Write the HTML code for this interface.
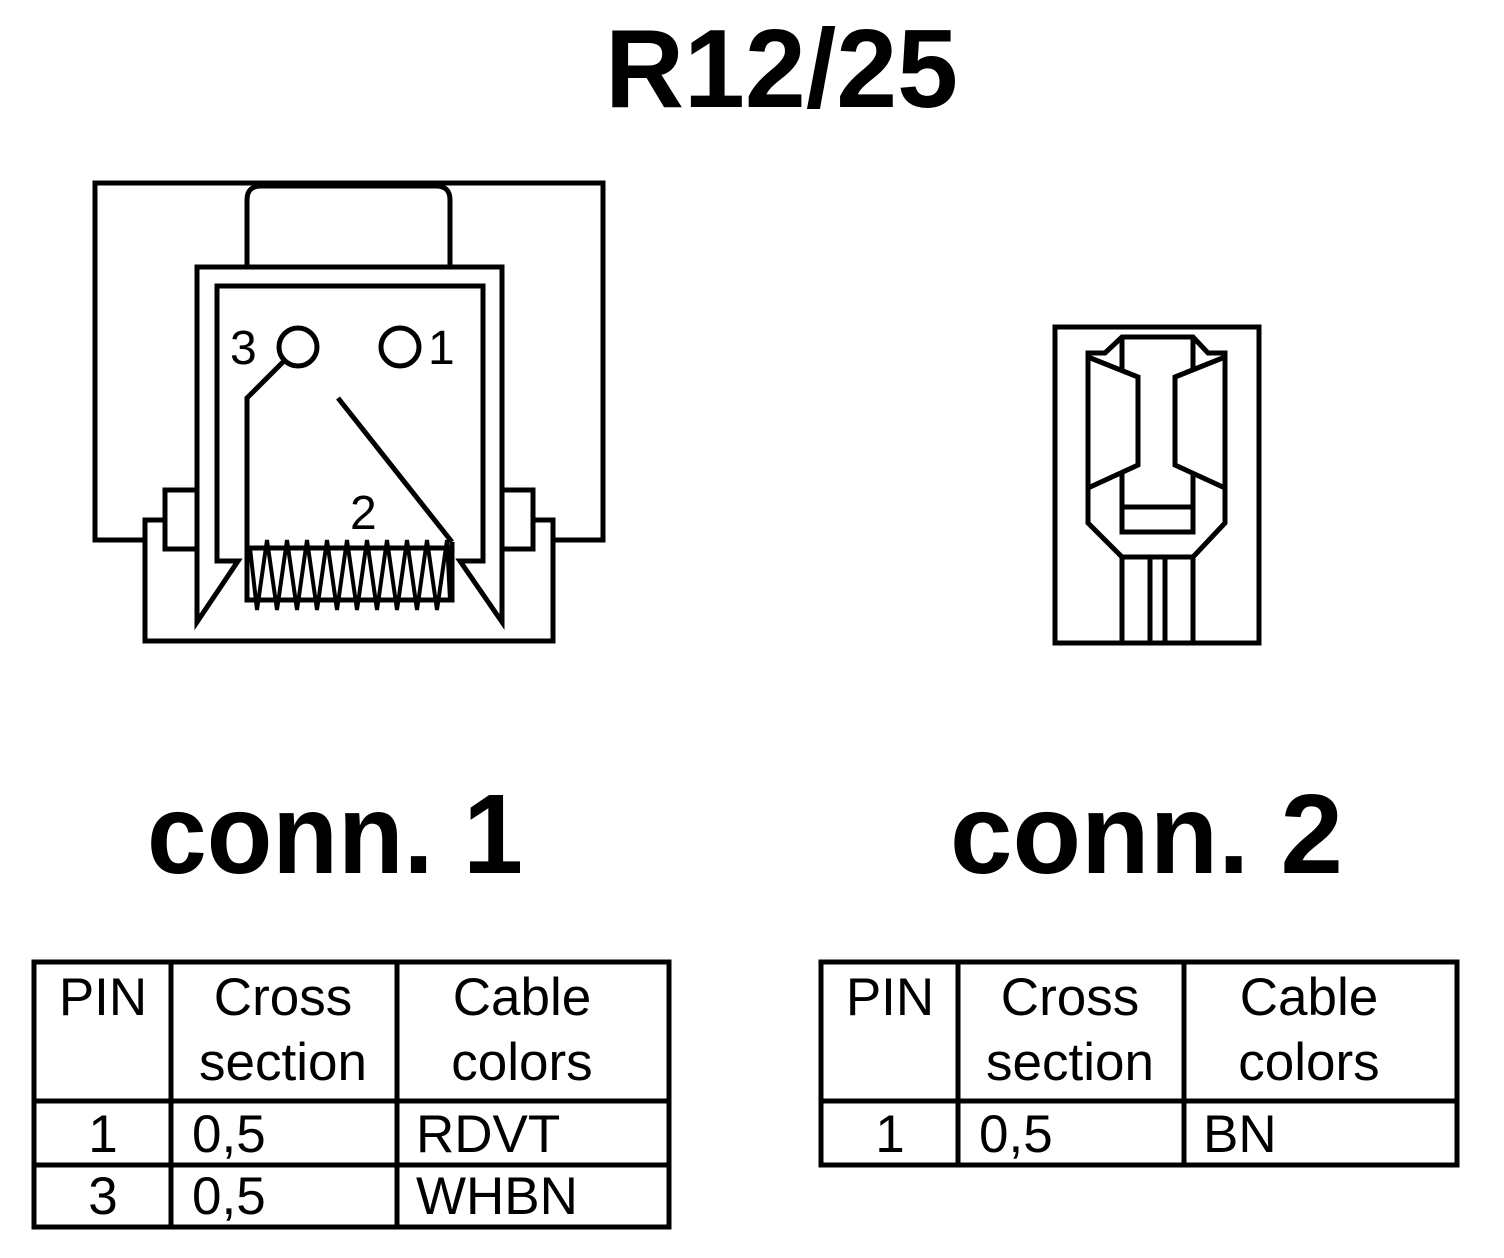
<!DOCTYPE html>
<html><head><meta charset="utf-8"><style>
html,body{margin:0;padding:0;background:#fff;}
svg{display:block;}
text{font-family:"Liberation Sans",Arial,sans-serif;fill:#000;}
</style></head><body>
<svg width="1504" height="1258" viewBox="0 0 1504 1258" xmlns="http://www.w3.org/2000/svg">
<rect width="1504" height="1258" fill="#fff"/>
<text x="605" y="107" font-size="111" font-weight="bold" textLength="353" lengthAdjust="spacingAndGlyphs">R12/25</text>

<g fill="none" stroke="#000" stroke-width="5" stroke-linejoin="miter">
  <polyline points="145,540 95,540 95,183 603,183 603,540 553,540"/>
  <path d="M247,265 V200 Q247,186 261,186 H436 Q450,186 450,200 V265"/>
  <polygon points="197,622 197,267 502,267 502,622 460,561 483,561 483,286 217,286 217,561 238,561"/>
  <polyline points="165,520 145,520 145,641 553,641 553,520 533,520"/>
  <rect x="165" y="490" width="32" height="59"/>
  <rect x="502" y="490" width="31" height="59"/>
  <circle cx="298" cy="347" r="19"/>
  <circle cx="400" cy="347" r="19"/>
  <polyline points="283,362 247,398 247,600 452,600 452,542"/>
  <line x1="338" y1="398" x2="452" y2="542"/>
  <line x1="247" y1="548" x2="452" y2="548"/>
  <polyline stroke-width="4" points="250,548 257,610 267,540 277,610 287,540 297,610 307,540 317,610 327,540 337,610 347,540 357,610 367,540 377,610 387,540 397,610 407,540 417,610 427,540 437,610 447,540 450,600"/>

  <!-- conn2 -->
  <rect x="1055" y="327" width="204" height="316"/>
  <polygon points="1088,353 1105,353 1122,337 1193,337 1208,353 1225,353 1225,523 1193,557 1122,557 1088,523"/>
  <polyline points="1088,357 1138,377 1138,465 1088,488"/>
  <polyline points="1225,357 1175,377 1175,465 1225,488"/>
  <line x1="1122" y1="337" x2="1122" y2="371"/>
  <line x1="1193" y1="337" x2="1193" y2="371"/>
  <polyline points="1122,472 1122,532 1193,532 1193,472"/>
  <line x1="1122" y1="507" x2="1193" y2="507"/>
  <line x1="1122" y1="557" x2="1122" y2="643"/>
  <line x1="1150" y1="557" x2="1150" y2="643"/>
  <line x1="1165" y1="557" x2="1165" y2="643"/>
  <line x1="1193" y1="557" x2="1193" y2="643"/>
</g>

<text x="230" y="364" font-size="48">3</text>
<text x="428" y="364" font-size="48">1</text>
<text x="350" y="529" font-size="48">2</text>

<text x="147" y="873" font-size="113" font-weight="bold" textLength="376" lengthAdjust="spacingAndGlyphs">conn. 1</text>
<text x="950" y="873" font-size="113" font-weight="bold" textLength="393" lengthAdjust="spacingAndGlyphs">conn. 2</text>

<g fill="none" stroke="#000" stroke-width="5">
  <rect x="34" y="962" width="635" height="265"/>
  <line x1="34" y1="1101" x2="669" y2="1101"/>
  <line x1="34" y1="1165" x2="669" y2="1165"/>
  <line x1="171" y1="962" x2="171" y2="1227"/>
  <line x1="397" y1="962" x2="397" y2="1227"/>
</g>
<g font-size="53">
  <text x="103" y="1015" text-anchor="middle">PIN</text>
  <text x="283" y="1015" text-anchor="middle">Cross</text>
  <text x="283" y="1080" text-anchor="middle">section</text>
  <text x="522" y="1015" text-anchor="middle">Cable</text>
  <text x="522" y="1080" text-anchor="middle">colors</text>
  <text x="103" y="1152" text-anchor="middle">1</text>
  <text x="192" y="1152">0,5</text>
  <text x="416" y="1152">RDVT</text>
  <text x="103" y="1214" text-anchor="middle">3</text>
  <text x="192" y="1214">0,5</text>
  <text x="416" y="1214">WHBN</text>
</g>

<g fill="none" stroke="#000" stroke-width="5">
  <rect x="821" y="962" width="636" height="203"/>
  <line x1="821" y1="1101" x2="1457" y2="1101"/>
  <line x1="958" y1="962" x2="958" y2="1165"/>
  <line x1="1184" y1="962" x2="1184" y2="1165"/>
</g>
<g font-size="53">
  <text x="890" y="1015" text-anchor="middle">PIN</text>
  <text x="1070" y="1015" text-anchor="middle">Cross</text>
  <text x="1070" y="1080" text-anchor="middle">section</text>
  <text x="1309" y="1015" text-anchor="middle">Cable</text>
  <text x="1309" y="1080" text-anchor="middle">colors</text>
  <text x="890" y="1152" text-anchor="middle">1</text>
  <text x="979" y="1152">0,5</text>
  <text x="1203" y="1152">BN</text>
</g>
</svg>
</body></html>
